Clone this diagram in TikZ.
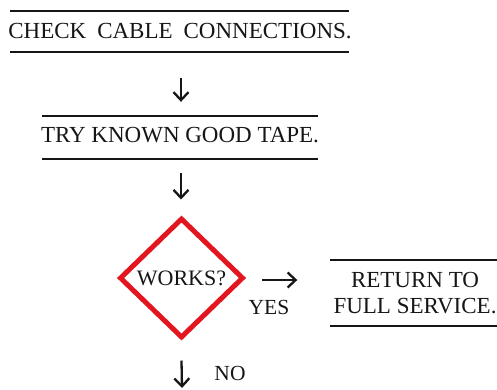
\documentclass[tikz,border=0pt]{standalone}
\usepackage{fontspec}
\setmainfont{Liberation Serif}
\usetikzlibrary{shapes.geometric,arrows.meta}
\definecolor{ink}{HTML}{161616}
\definecolor{flagred}{HTML}{E3161F}
\tikzset{
  txt/.style={font=\fontsize{23}{26}\selectfont, text=ink, inner sep=0pt, align=center},
  small/.style={font=\fontsize{21.5}{24}\selectfont, text=ink, inner sep=0pt},
  rule/.style={draw=ink, line width=1.8pt},
  flow/.style={draw=ink, line width=2.3pt, -{Straight Barb[length=8pt,width=15pt,line width=2.3pt]}},
  decision/.style={diamond, draw=flagred, line width=5pt, minimum width=124pt, minimum height=120pt, inner sep=0pt, font=\fontsize{22}{26}\selectfont, text=ink}
}
\begin{document}
\begin{tikzpicture}[x=1pt,y=1pt]
\useasboundingbox (0,0) rectangle (497,-389);
% box 1
\node[txt, minimum width=339pt, minimum height=41pt] (c1) at (180,-31.5) {CHECK\hspace{11pt}CABLE\hspace{11pt}CONNECTIONS.};
\draw[rule] (10,-11) -- (349,-11);
\draw[rule] (10,-52) -- (349,-52);
% box 2
\node[txt, minimum width=276pt, minimum height=43pt] (c2) at (180,-137.5) {\raisebox{5pt}{TRY KNOWN GOOD TAPE.}};
\draw[rule] (42,-116) -- (318,-116);
\draw[rule] (42,-159) -- (318,-159);
% decision
\node[decision] (d) at (181.5,-278) {\raisebox{-2pt}{WORKS?}};
% box 3
\node[txt, minimum width=167pt, minimum height=66pt] (c3) at (415,-293) {RETURN TO\\FULL SERVICE.};
\draw[rule] (330,-260) -- (497,-260);
\draw[rule] (330,-326) -- (497,-326);
% labels
\node[small] (yes) at (269,-307) {YES};
\node[small] (no) at (230,-373) {NO};
\coordinate (out) at (182,-388);
% connectors
\draw[flow] ([yshift=-26pt]c1.south -| 181,0) -- ([yshift=14pt]c2.north -| 181,0);
\draw[flow] ([yshift=-14pt]c2.south -| 181,0) -- ([yshift=16pt]d.north -| 181,0);
\draw[flow] ([xshift=16pt,yshift=-2pt]d.east) -- ([xshift=-34pt,yshift=13pt]c3.west);
\draw[flow] ([yshift=-20pt]d.south) -- (out);
\end{tikzpicture}
\end{document}
